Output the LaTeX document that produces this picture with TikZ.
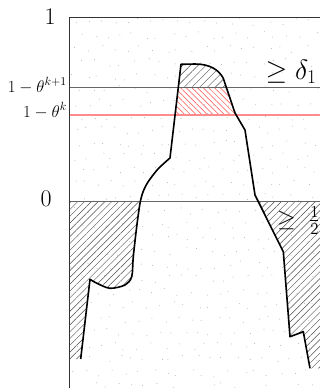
\RequirePackage{fix-cm}
\documentclass[tikz,border=0pt]{standalone}
\usetikzlibrary{patterns.meta}
\begin{document}
\begin{tikzpicture}[x=1bp,y=-1bp,
  axisline/.style={draw=black!80,line width=0.9bp},
  levelline/.style={draw=black!60,line width=0.7bp},
  redline/.style={draw=red!45,line width=1.3bp},
  curveline/.style={draw=black,line width=1.6bp,line join=round},
  hatchk/.style={pattern={Lines[angle=45,distance=5.5bp,line width=0.45bp]},pattern color=black!70},
  hatchl/.style={pattern={Lines[angle=45,distance=4.8bp,line width=0.45bp]},pattern color=black!70},
  hatchr/.style={pattern={Lines[angle=-45,distance=4bp,line width=0.5bp]},pattern color=red!70},
  dotc/.style={fill=black!30},
  big/.style={inner sep=0pt,font=\fontsize{24}{28}\selectfont},
  bigger/.style={inner sep=0pt,font=\fontsize{28}{32}\selectfont},
  small/.style={inner sep=0pt,font=\fontsize{17}{20}\selectfont}]
\useasboundingbox (0,0) rectangle (320,388);
% dotted background
\pgfmathsetseed{11}
\foreach \i in {0,...,18}{
  \foreach \j in {0,...,27}{
    \pgfmathsetmacro\px{74+13*\i+6.5*mod(\j,2)+4*rand}
    \pgfmathsetmacro\py{22+13.5*\j+4*rand}
    \pgfmathparse{\px<319 ? 1 : 0}
    \ifnum\pgfmathresult=1
      \fill[dotc] (\px,\py) circle[radius=0.5];
    \fi
  }
}
% coordinates
\coordinate (ax0) at (69,388);
\coordinate (axT) at (69,17);
\coordinate (axTR) at (320,17);
\coordinate (u1) at (69,87);  \coordinate (u2) at (320,87);
\coordinate (r1) at (69,115); \coordinate (r2) at (320,115);
\coordinate (z1) at (69,201); \coordinate (z2) at (320,201);
% hatches
\begin{scope}
  \clip (170,158) -- (181,64.3) -- (195,64) .. controls (210,64) and (219,70) .. (223.3,78.3) -- (235,113) -- (245,130) -- cycle;
  \fill[hatchk] (160,55) rectangle (250,87);
  \fill[hatchr] (160,87) rectangle (250,115);
\end{scope}
\begin{scope}
  \clip (69,158) -- plot[smooth] coordinates {(170,158) (158,169) (148,182) (143,192) (140,203.3) (136.7,226.7) (133.3,256.7) (131.7,276.7) (125,285) (110,288.3) (97,283.3) (90,279.3)} -- (80.7,359) -- (69,359) -- cycle;
  \fill[hatchl] (69,201) rectangle (160,359);
\end{scope}
\begin{scope}
  \clip (245,130) -- (255,195) -- (283.3,251.7) -- (290,336.7) -- (303.3,331.7) -- (310,368.3) -- (320,368.3) -- (320,130) -- cycle;
  \fill[hatchl] (240,201) rectangle (320,368.3);
\end{scope}
% lines
\draw[levelline] (u1) -- (u2);
\draw[redline] (r1) -- (r2);
\draw[levelline] (z1) -- (z2);
\draw[axisline] (ax0) -- (axT) -- (axTR);
% curve
\draw[curveline] (80.7,359) -- plot[smooth] coordinates {(90,279.3) (97,283.3) (110,288.3) (125,285) (131.7,276.7) (133.3,256.7) (136.7,226.7) (140,203.3) (143,192) (148,182) (158,169) (170,158)}
  -- (181,64.3) -- (195,64) .. controls (210,64) and (219,70) .. (223.3,78.3) -- (235,113) -- (245,130) -- (255,195) -- (283.3,251.7) -- (290,336.7) -- (303.3,331.7) -- (310,368.3);
% labels
\node[big] (one) at (50,16.5) {1};
\node[big] (zero) at (46,198.5) {0};
\node[small,anchor=base east] (tk1) at (67,92) {$1-\theta^{k+1}$};
\node[small,anchor=base east] (tk) at (67,117) {$1-\theta^{k}$};
\node[bigger,anchor=base west] (d1) at (265.5,79) {$\geq \delta_1$};
\node[big,anchor=base west] (half) at (277,226.5) {$\geq\;\frac{1}{2}$};
\end{tikzpicture}
\end{document}
